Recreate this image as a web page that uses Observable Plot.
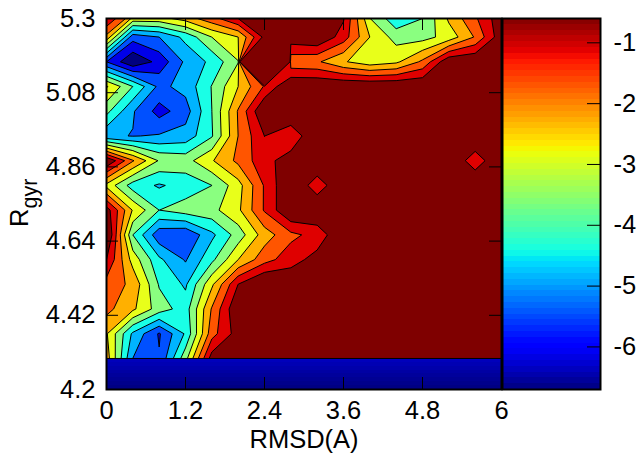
<!DOCTYPE html>
<html>
<head>
<meta charset="utf-8">
<script src="https://cdn.jsdelivr.net/npm/d3@7"></script>
<script src="https://cdn.jsdelivr.net/npm/@observablehq/plot@0.6"></script>
<style>
html,body{margin:0;padding:0;background:#fff}
#chart{display:flex;width:638px;height:454px}
svg{display:block;overflow:visible}
</style>
</head>
<body>
<div id="chart"></div>
<script>
// Grid: columns are RMSD 0..6 (step 0.4), rows run from the top of the picture down.
const rmsdValues = d3.range(16).map(i => i * 0.4);
const rgyrBottom = 4.292, rgyrStep = 0.0733;
const E = -0.6; // background free-energy level (dark red)
const row14 = [-0.77,-2.26,-2.37,-2.04,-1.43,E,E,E,E,-0.99,-3.54,-4.59,-4.04,-2.57,-1.71,-0.77];
const row13 = [-2.43,-5.37,-5.04,-4.32,-3.37,-2.82,-0.99,-0.77,E,-1.43,-2.82,-3.59,-3.59,-3.15,-2.21,-0.77];
const row12 = [-5.59,-6.64,-5.96,-4.93,-4.34,-3.40,30,-2.10,-2.18,-2.76,-3.15,-2.93,-2.15,-0.68,E,E];
const row11 = [-2.76,-3.93,-5.18,-4.85,-3.90,-2.82,-1.65,E,E,E,E,E,E,E,E,E];
const row10 = [-3.76,-4.98,-5.81,-5.29,-3.93,-2.21,-0.55,E,E,E,E,E,E,E,E,E];
const row09 = [-4.93,-5.06,-4.98,-4.81,-3.98,-2.26,-1.15,-1.57,E,E,E,E,E,E,E,E];
const row08 = [E,-2.21,-3.43,-3.59,-2.87,-2.13,-1.34,-0.88,E,E,E,E,E,E,-1.49,E];
const row07 = [-2.98,-4.20,-4.55,-4.26,-3.93,-3.04,-1.65,-0.55,-1.49,E,E,E,E,E,E,E];
const row06 = [-0.88,-2.87,-3.93,-3.65,-3.54,-2.93,-1.65,-0.55,E,E,E,E,E,E,E,E];
const row05 = [-0.43,-3.93,-5.42,-5.54,-4.61,-3.68,-2.54,-1.85,-1.51,E,E,E,E,E,E,E];
const row04 = [-1.15,-3.04,-4.37,-5.09,-4.07,-2.82,-1.93,-1.40,-0.93,E,E,E,E,E,E,E];
const row03 = [-1.93,-2.40,-3.98,-4.57,-2.93,-1.15,-0.43,-0.66,E,E,E,E,E,E,E,E];
const row02 = [-2.10,-2.71,-3.65,-4.20,-2.21,E,E,E,E,E,E,E,E,E,E,E];
const row01 = [-2.76,-4.59,-5.65,-4.41,-1.93,-0.88,E,E,E,E,E,E,E,E,E,E];
const row00 = [-2.54,-5.04,-5.54,-3.57,-0.88,E,E,E,E,E,E,E,E,E,E,E];
const rowsBottomUp = [row00,row01,row02,row03,row04,row05,row06,row07,row08,row09,row10,row11,row12,row13,row14];

const levelStep = 0.5545, levelMin = -6.7, levelMax = -0.6;
const thresholds = d3.range(11).map(k => levelMin + k * levelStep);
const bandColors = ["#00007f","#0000e8","#0050ff","#00b4ff","#1affe6","#8aff80","#e8ff1a","#ffb000","#ff5500","#df0000","#7f0000"];
const xTicks = [0,1.2,2.4,3.6,4.8,6];
const yTicks = [4.2,4.42,4.64,4.86,5.08,5.3];
const barTicks = [-1,-2,-3,-4,-5,-6];
const xLabel = "RMSD(A)";

// jet colormap
const chan = (d, r) => d3.scaleLinear().domain(d).range(r).clamp(true);
const jr = chan([0,.35,.66,.89,1],[0,0,1,1,.5]);
const jg = chan([0,.125,.375,.64,.91,1],[0,0,1,1,0,0]);
const jb = chan([0,.11,.34,.65,1],[.5,1,1,0,0]);
const jet = t => d3.rgb(jr(t)*255, jg(t)*255, jb(t)*255).formatHex();

const barSteps = d3.range(64).map(i => ({
  y1: levelMin + i * (levelMax - levelMin) / 64,
  y2: levelMin + (i + 1) * (levelMax - levelMin) / 64,
  color: jet((i + 0.5) / 64)
}));
const floorSteps = 8;
const floorBand = d3.range(floorSteps).map(i => ({
  y1: 4.2 + i * (rgyrBottom - 4.2) / floorSteps,
  y2: 4.2 + (i + 1) * (rgyrBottom - 4.2) / floorSteps,
  color: jet((i + 0.5) / floorSteps * 0.055)
}));

const font = {fontFamily: "'Liberation Sans', Arial, sans-serif", background: "transparent"};
const axisFont = 25.5;
const H = 454, mt = 18, mb = 65;
const inner = H - mt - mb;

const main = Plot.plot({
  width: 502, height: H,
  marginLeft: 106, marginRight: 1, marginTop: mt, marginBottom: mb,
  style: font,
  x: {domain: [0, 6]},
  y: {domain: [4.2, 5.3]},
  color: {type: "threshold", domain: thresholds.slice(1), range: bandColors},
  marks: [
    Plot.contour(rowsBottomUp.flat(), {
      width: 16, height: 15,
      x1: -0.2, x2: 6.2,
      y1: rgyrBottom - rgyrStep / 2, y2: rgyrBottom + 14.5 * rgyrStep,
      fill: Plot.identity, stroke: "black", strokeWidth: 1,
      thresholds, clip: true
    }),
    Plot.rect(floorBand, {x1: 0, x2: 6, y1: "y1", y2: "y2", fill: d => d.color, shapeRendering: "crispEdges"}),
    Plot.ruleY([rgyrBottom], {stroke: "black", strokeWidth: 1}),
    Plot.ruleX(xTicks, {stroke: "black", insetTop: inner - 12}),
    Plot.ruleX(xTicks, {stroke: "black", insetBottom: inner - 12}),
    Plot.ruleY(yTicks, {stroke: "black", insetRight: 395 - 12}),
    Plot.ruleY(yTicks, {stroke: "black", insetLeft: 395 - 12}),
    Plot.frame({stroke: "black", strokeWidth: 2}),
    Plot.axisX({ticks: xTicks, tickSize: 0, tickPadding: 11, fontSize: axisFont, label: null, tickFormat: d => String(d)}),
    Plot.axisY({ticks: yTicks, tickSize: 0, tickPadding: 11, fontSize: axisFont, label: null, tickFormat: d => String(d)}),
    Plot.text([xLabel], {frameAnchor: "bottom", dy: 58, fontSize: axisFont})
  ]
});
const lab = d3.select(main).append("text")
  .attr("transform", "translate(28,227) rotate(-90)")
  .attr("text-anchor", "start")
  .attr("font-size", axisFont)
  .attr("fill", "black");
lab.append("tspan").text("R");
lab.append("tspan").attr("dy", 9).attr("font-size", 21.5).text("gyr");

const bar = Plot.plot({
  width: 136, height: H,
  marginLeft: 0, marginRight: 38, marginTop: mt, marginBottom: mb,
  style: font,
  y: {domain: [levelMin, levelMax]},
  color: {type: "identity"},
  marks: [
    Plot.rect(barSteps, {y1: "y1", y2: "y2", fill: "color", shapeRendering: "crispEdges"}),
    Plot.ruleY(barTicks, {stroke: "black", insetLeft: 98 - 13}),
    Plot.frame({stroke: "black", strokeWidth: 2}),
    Plot.axisY({anchor: "right", ticks: barTicks, tickSize: 0, tickPadding: 13, fontSize: axisFont, label: null, tickFormat: d => String(d)})
  ]
});
const root = document.getElementById("chart");
root.append(main, bar);
</script>
</body>
</html>
